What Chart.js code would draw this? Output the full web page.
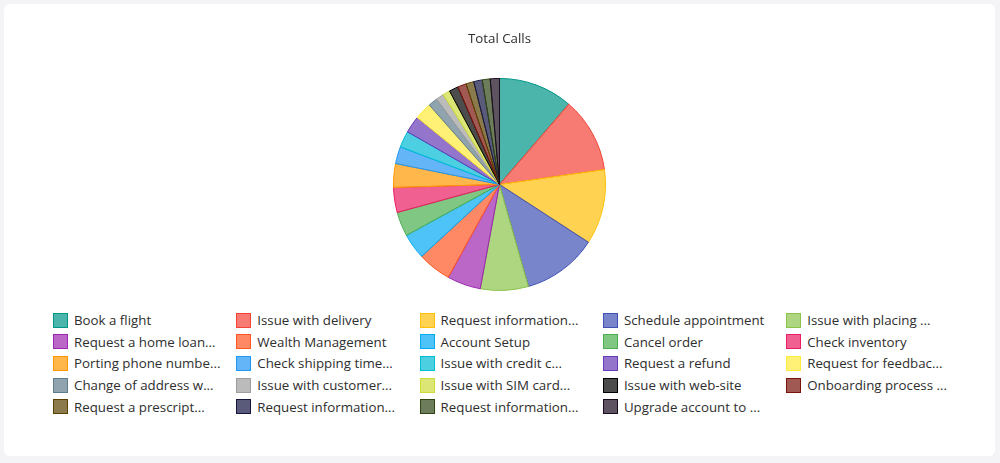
<!DOCTYPE html>
<html>
<head>
<meta charset="utf-8">
<script src="https://cdn.jsdelivr.net/npm/chart.js@4"></script>
<style>
  html, body { margin: 0; padding: 0; }
  body { width: 1000px; height: 463px; background: #f4f4f6; position: relative; overflow: hidden;
         font-family: "Open Sans", sans-serif; }
  .card { position: absolute; left: 4px; top: 4px; width: 991px; height: 452px; background: #fff; border-radius: 6px; }
  #chartWrap { position: absolute; left: 4px; top: 4px; width: 991px; height: 287px; }
  #legend { position: absolute; left: 53px; top: 312px; display: grid;
            grid-template-columns: repeat(5, 183.3px); grid-auto-rows: 21.7px; }
  .item { display: flex; align-items: center; font-size: 13.3px; color: #2e2e2e; white-space: nowrap; height: 16px; }
  .box { width: 13px; height: 13px; border: 1px solid; margin-right: 6px; flex: none; }
</style>
</head>
<body>
<div class="card"></div>
<div id="chartWrap"><canvas id="pie"></canvas></div>
<div id="legend"></div>
<script>
// labels as they appear in the legend (long ones are already cut)
const categories = [
  'Book a flight', 'Issue with delivery', 'Request information...', 'Schedule appointment', 'Issue with placing ...',
  'Request a home loan...', 'Wealth Management', 'Account Setup', 'Cancel order', 'Check inventory',
  'Porting phone numbe...', 'Check shipping time...', 'Issue with credit c...', 'Request a refund', 'Request for feedbac...',
  'Change of address w...', 'Issue with customer...', 'Issue with SIM card...', 'Issue with web-site', 'Onboarding process ...',
  'Request a prescript...', 'Request information...', 'Request information...', 'Upgrade account to ...'
];
const totalCalls = [
  113, 114, 114, 114, 73,
  51, 51, 39, 37, 38,
  36, 26, 25, 26, 26,
  14, 12, 11, 14, 13,
  12, 13, 12, 14
];
const baseColors = [
  [0,150,136], [244,67,54], [255,193,7], [63,81,181], [139,195,74],
  [156,39,176], [255,87,34], [3,169,244], [76,175,80], [233,30,99],
  [255,152,0], [33,150,243], [0,188,212], [103,58,183], [255,235,59],
  [96,125,139], [158,158,158], [205,220,57], [0,0,0], [120,20,10],
  [90,65,0], [20,22,65], [47,69,20], [25,10,30]
];

const fills = baseColors.map(c => 'rgba(' + c.join(',') + ',0.7)');
const borders = baseColors.map(c => 'rgb(' + c.join(',') + ')');

Chart.defaults.font.family = '"Open Sans", sans-serif';
Chart.defaults.color = '#2e2e2e';

const chart = new Chart(document.getElementById('pie'), {
  type: 'pie',
  data: {
    labels: categories,
    datasets: [{
      label: 'Total Calls',
      data: totalCalls,
      backgroundColor: fills,
      borderColor: borders,
      borderWidth: 1
    }]
  },
  options: {
    responsive: true,
    maintainAspectRatio: false,
    animation: false,
    plugins: {
      legend: { display: false },
      tooltip: { enabled: false },
      title: {
        display: true,
        text: 'Total Calls',
        font: { size: 13.3, weight: 'normal' },
        color: '#2e2e2e',
        padding: { top: 27, bottom: 31 }
      }
    }
  }
});

// html legend, 5 columns
const legend = document.getElementById('legend');
categories.forEach((name, i) => {
  const item = document.createElement('div');
  item.className = 'item';
  const box = document.createElement('span');
  box.className = 'box';
  box.style.background = fills[i];
  box.style.borderColor = borders[i];
  item.appendChild(box);
  item.appendChild(document.createTextNode(name));
  legend.appendChild(item);
});
</script>
</body>
</html>
